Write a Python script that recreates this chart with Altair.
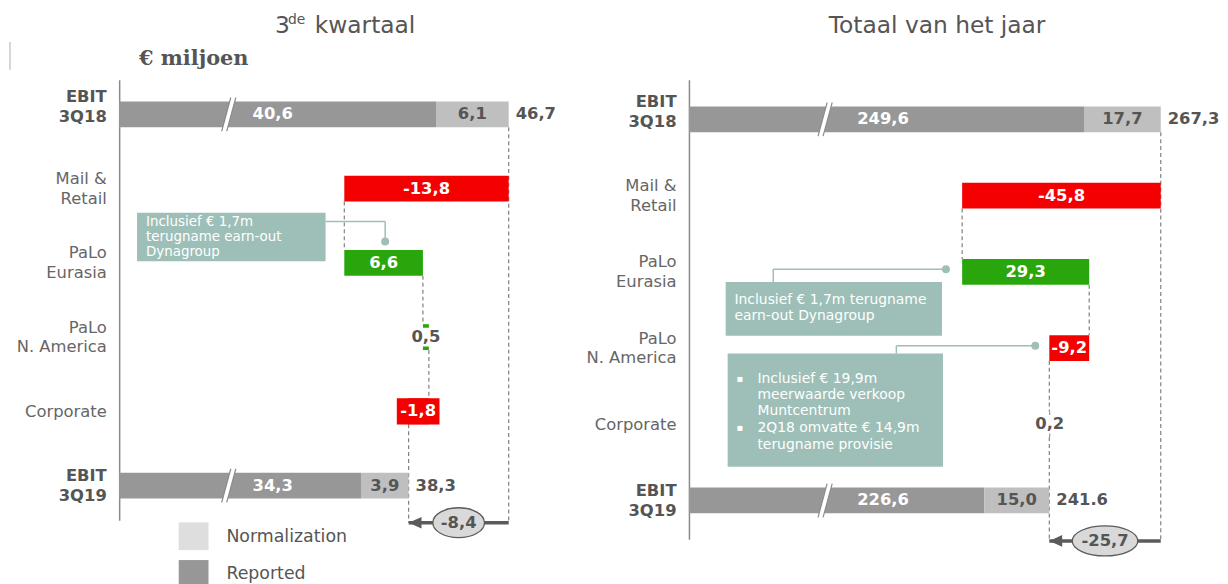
import json
import altair as alt
import pandas as pd

# ---------------- chart values ----------------
categories = ["EBIT\n3Q18", "Mail &\nRetail", "PaLo\nEurasia",
              "PaLo\nN. America", "Corporate", "EBIT\n3Q19"]
segment_kinds = ["Reported", "Normalization", "Increase", "Decrease"]
legend_names = ["Normalization", "Reported"]

q3_heading = ["3", "de", "kwartaal"]
q3_unit = "€ miljoen"
q3_reported = [40.6, 34.3]
q3_normalization = [6.1, 3.9]
q3_totals = [46.7, 38.3]
q3_total_labels = ["46,7", "38,3"]
q3_deltas = [-13.8, 6.6, 0.5, -1.8]
q3_notes = ["Inclusief € 1,7m\nterugname earn-out\nDynagroup"]

fy_heading = "Totaal van het jaar"
fy_reported = [249.6, 226.6]
fy_normalization = [17.7, 15.0]
fy_totals = [267.3, 241.6]
fy_total_labels = ["267,3", "241.6"]
fy_deltas = [-45.8, 29.3, -9.2, 0.2]
fy_notes = ["Inclusief € 1,7m terugname\nearn-out Dynagroup",
            "Inclusief € 19,9m\nmeerwaarde verkoop\nMuntcentrum",
            "2Q18 omvatte € 14,9m\nterugname provisie"]
bullet_mark = "▪"

# ---------------- styles ----------------
FONT = "DejaVu Sans"
SERIF = "DejaVu Serif"
SEG_COLORS = ["#979797", "#bfbfbf", "#29a60b", "#f40000"]
LEGEND_COLORS = ["#dedede", "#979797"]
DARK = "#555555"
LABEL_GREY = "#666666"
NOTE = "#9dbfb8"
DASH = "#808080"
ARROW = "#5b5b5b"
VALUE_SIZE = 16.5
CAT_SIZE = 16.5

Q3_LAYOUT = {
    "xdomain": [14, 52], "width": 456, "height": 444,
    "ydomain": [-0.468, 5.468], "half": 0.174,
    "break_x": 23.2, "rep_label_x": 25.2, "arrow_row": 5.5,
    "ellipse": (52, 0.58),
    "headings": [
        {"text": q3_heading[0], "x": 157, "y": -54, "size": 23.5},
        {"text": q3_heading[1], "x": 170, "y": -60, "size": 14},
        {"text": q3_heading[2], "x": 197, "y": -54, "size": 23.5},
        {"text": q3_unit, "x": 20, "y": -21, "size": 21, "weight": "bold", "font": SERIF},
    ],
    "boxes": [(15.5, 31.33, 1.324, 1.979)],
    "texts": [(q3_notes[0], 16.25, 1.35, False)],
    "bullet_x": None,
    "leaders": [[(31.33, 1.444), (36.33, 1.444), (36.33, 1.711)]],
    "line_h": 15.5, "note_size": 13.5,
    "legend": True,
}

FY_LAYOUT = {
    "xdomain": [158.5, 278.9], "width": 526, "height": 463,
    "ydomain": [-0.521, 5.508], "half": 0.169,
    "break_x": 189.9, "rep_label_x": 197.3, "arrow_row": 5.53,
    "ellipse": (66, 0.46),
    "headings": [{"text": fy_heading, "x": 250, "y": -54, "size": 23.5, "align": "center"}],
    "boxes": [(166.97, 216.85, 2.135, 2.839), (167.42, 217.08, 3.073, 4.557)],
    "texts": [(fy_notes[0], 169.0, 2.28, False),
              (fy_notes[1], 174.29, 3.31, True),
              (fy_notes[2], 174.29, 3.96, True)],
    "bullet_x": 169.48,
    "leaders": [[(177.95, 2.135), (177.95, 1.966), (217.77, 1.966)],
                [(206.33, 3.073), (206.33, 2.969), (238.36, 2.969)]],
    "line_h": 16.5, "note_size": 14,
    "legend": False,
}


def fmt(v):
    return f"{v:.1f}".replace(".", ",")


def one(text):
    return pd.DataFrame({"t": [text]})


def panel(reported, normalization, totals, total_labels, deltas, lay):
    dom = lay["xdomain"]
    W, H = lay["width"], lay["height"]
    pxu = W / (dom[1] - dom[0])
    h = lay["half"]
    last = len(categories) - 1

    xs = alt.Scale(domain=dom, clamp=True, nice=False, zero=False)
    ys = alt.Scale(domain=lay["ydomain"], reverse=True, nice=False, zero=False)
    cats_js = json.dumps(categories)
    test_bold = f"datum.value == 0 || datum.value == {last}"
    test_two = f"indexof({cats_js}[datum.value], '\\n') >= 0"
    yaxis = alt.Axis(
        title=None, values=list(range(len(categories))),
        labelExpr=f"split({cats_js}[datum.value], '\\n')",
        ticks=False, grid=False, domain=True, domainColor="#8a8a8a", domainWidth=1.5,
        labelPadding=13, labelFont=FONT, labelFontSize=CAT_SIZE, labelLineHeight=20,
        labelOverlap=False, labelAlign="right", labelBaseline="middle",
        labelOffset={"condition": [{"test": "datum.value == 0", "value": -18},
                                   {"test": test_two, "value": -10}], "value": 0},
        labelColor={"condition": {"test": test_bold, "value": DARK}, "value": LABEL_GREY},
        labelFontWeight={"condition": {"test": test_bold, "value": "bold"}, "value": "normal"},
    )

    def X(f):
        return alt.X(f + ":Q", scale=xs, axis=None, title=None)

    def Y(f):
        return alt.Y(f + ":Q", scale=ys, axis=yaxis, title=None)

    # --- segments ---
    segs = []
    for i, r in ((0, 0), (1, last)):
        segs.append(dict(row=r, x0=0, x1=reported[i], kind="Reported"))
        segs.append(dict(row=r, x0=reported[i], x1=totals[i], kind="Normalization"))
    level = totals[0]
    starts, ends = [], []
    for k, d in enumerate(deltas):
        starts.append(level)
        level = level + d
        ends.append(level)
        segs.append(dict(row=k + 1, x0=starts[-1], x1=level,
                         kind="Increase" if d > 0 else "Decrease"))
    seg_df = pd.DataFrame(segs)

    color_scale = alt.Scale(domain=segment_kinds, range=SEG_COLORS)

    # --- dashed connectors ---
    dash = [dict(x=totals[0], r0=h, r1=lay["arrow_row"])]
    for k in range(len(deltas) - 1):
        dash.append(dict(x=ends[k], r0=k + 1 + h, r1=k + 2 - h))
    dash.append(dict(x=totals[1], r0=len(deltas) + h, r1=lay["arrow_row"]))
    dash_df = pd.DataFrame(dash)

    layers = []
    layers.append(alt.Chart(dash_df).mark_rule(strokeDash=[4, 3], color=DASH, strokeWidth=1.2)
                  .encode(x=X("x"), y=Y("r0"), y2="r1"))

    layers.append(alt.Chart(seg_df)
                  .transform_calculate(ylo=f"datum.row - {h}", yhi=f"datum.row + {h}")
                  .mark_rect()
                  .encode(x=X("x0"), x2="x1", y=Y("ylo"), y2="yhi",
                          color=alt.Color("kind:N", scale=color_scale, legend=None)))

    # --- label backgrounds for narrow bars ---
    bg, wbg, lab_c = [], [], []
    for i, r in ((0, 0), (1, last)):
        lab_c.append(dict(x=(reported[i] + totals[i]) / 2, row=r,
                          text=fmt(normalization[i]), color=DARK))
    for k, d in enumerate(deltas):
        wpx = abs(d) * pxu
        mid = (starts[k] + ends[k]) / 2
        lab_c.append(dict(x=mid, row=k + 1, text=fmt(d), color="white" if wpx >= 15 else DARK))
        if 15 <= wpx < 40:
            bg.append(dict(x=mid, row=k + 1, kind="Increase" if d > 0 else "Decrease"))
        elif wpx < 15:
            wbg.append(dict(x=mid, row=k + 1))
    if bg:
        layers.append(alt.Chart(pd.DataFrame(bg))
                      .mark_point(shape="M -1 -0.62 L 1 -0.62 L 1 0.62 L -1 0.62 Z",
                                  size=43 * 43, filled=True, opacity=1, strokeWidth=0)
                      .encode(x=X("x"), y=Y("row"),
                              color=alt.Color("kind:N", scale=color_scale, legend=None)))
    if wbg:
        layers.append(alt.Chart(pd.DataFrame(wbg))
                      .mark_point(shape="M -1 -0.55 L 1 -0.55 L 1 0.55 L -1 0.55 Z",
                                  size=34 * 34, filled=True, fill="white", opacity=1, strokeWidth=0)
                      .encode(x=X("x"), y=Y("row")))

    # --- axis break marks ---
    brk = pd.DataFrame({"x": [lay["break_x"]] * 2, "row": [0, last]})
    layers.append(alt.Chart(brk).mark_point(
        shape="M 0.12 -1 L 0.42 -1 L -0.12 1 L -0.42 1 Z", size=1156,
        filled=True, fill="white", opacity=1, strokeWidth=0)
        .encode(x=X("x"), y=Y("row")))
    layers.append(alt.Chart(brk).mark_point(
        shape="M 0.12 -1 L -0.42 1 M 0.42 -1 L -0.12 1", size=1156,
        filled=False, stroke="#8c8c8c", strokeWidth=1.2, opacity=1)
        .encode(x=X("x"), y=Y("row")))

    # --- value labels ---
    txt = dict(font=FONT, fontSize=VALUE_SIZE, fontWeight="bold", baseline="middle")
    layers.append(alt.Chart(pd.DataFrame(lab_c)).mark_text(align="center", **txt)
                  .encode(x=X("x"), y=Y("row"), text="text:N", color=alt.Color("color:N", scale=None)))
    rep_df = pd.DataFrame([dict(x=lay["rep_label_x"], row=r, text=fmt(reported[i]))
                           for i, r in ((0, 0), (1, last))])
    layers.append(alt.Chart(rep_df).mark_text(align="left", color="white", **txt)
                  .encode(x=X("x"), y=Y("row"), text="text:N"))
    tot_df = pd.DataFrame([dict(x=totals[i], row=r, text=total_labels[i])
                           for i, r in ((0, 0), (1, last))])
    layers.append(alt.Chart(tot_df).mark_text(align="left", dx=7, color=DARK, **txt)
                  .encode(x=X("x"), y=Y("row"), text="text:N"))

    # --- change arrow ---
    ar = lay["arrow_row"]
    arrow_df = pd.DataFrame([dict(x=totals[0], x2=totals[1], row=ar,
                                  mid=(totals[0] + totals[1]) / 2,
                                  text=fmt(totals[1] - totals[0]))])
    layers.append(alt.Chart(arrow_df).mark_rule(strokeWidth=3.5, color=ARROW)
                  .encode(x=X("x"), x2="x2", y=Y("row")))
    layers.append(alt.Chart(arrow_df).mark_point(shape="M 0 0 L 2 -0.9 L 2 0.9 Z", size=169,
                                                 filled=True, color=ARROW, opacity=1)
                  .encode(x=X("x2"), y=Y("row")))
    ew, er = lay["ellipse"]
    layers.append(alt.Chart(arrow_df).mark_point(
        shape=f"M -1 0 A 1 {er} 0 1 1 1 0 A 1 {er} 0 1 1 -1 0 Z", size=ew * ew,
        filled=True, fill="#d9d9d9", stroke=ARROW, strokeWidth=1.3, opacity=1)
        .encode(x=X("mid"), y=Y("row")))
    layers.append(alt.Chart(arrow_df).mark_text(align="center", color=DARK, **txt)
                  .encode(x=X("mid"), y=Y("row"), text="text:N"))

    # --- notes ---
    box_df = pd.DataFrame([dict(x0=b[0], x1=b[1], r0=b[2], r1=b[3]) for b in lay["boxes"]])
    layers.append(alt.Chart(box_df).mark_rect(color=NOTE)
                  .encode(x=X("x0"), x2="x1", y=Y("r0"), y2="r1"))
    segs_l, dots = [], []
    for path in lay["leaders"]:
        for (ax, ay), (bx, by) in zip(path[:-1], path[1:]):
            segs_l.append(dict(x=ax, x2=bx, r0=ay, r1=by))
        dots.append(dict(x=path[-1][0], row=path[-1][1]))
    layers.append(alt.Chart(pd.DataFrame(segs_l)).mark_rule(color=NOTE, strokeWidth=1.5)
                  .encode(x=X("x"), x2="x2", y=Y("r0"), y2="r1"))
    layers.append(alt.Chart(pd.DataFrame(dots)).mark_circle(color=NOTE, size=64, opacity=1)
                  .encode(x=X("x"), y=Y("row")))
    note_df = pd.DataFrame([dict(x=t[1], row=t[2], text=t[0]) for t in lay["texts"]])
    ntxt = dict(font=FONT, fontSize=lay["note_size"], lineHeight=lay["line_h"],
                baseline="top", align="left", color="white", lineBreak="\n")
    layers.append(alt.Chart(note_df).mark_text(**ntxt)
                  .encode(x=X("x"), y=Y("row"), text="text:N"))
    if lay["bullet_x"] is not None:
        bl_df = pd.DataFrame([dict(x=lay["bullet_x"], row=t[2], text=bullet_mark)
                              for t in lay["texts"] if t[3]])
        layers.append(alt.Chart(bl_df).mark_text(**dict(ntxt, fontSize=10, dy=2))
                      .encode(x=X("x"), y=Y("row"), text="text:N"))

    # --- headings ---
    for hd in lay["headings"]:
        layers.append(alt.Chart(one(hd["text"])).mark_text(
            font=hd.get("font", FONT), fontSize=hd["size"], fontWeight=hd.get("weight", "normal"),
            align=hd.get("align", "left"), baseline="middle", color=DARK)
            .encode(x=alt.value(hd["x"]), y=alt.value(hd["y"]), text="t:N"))

    # --- legend and frame mark ---
    if lay["legend"]:
        for i, name in enumerate(legend_names):
            d1 = one(name)
            layers.append(alt.Chart(d1).mark_rect(color=LEGEND_COLORS[i]).encode(
                x=alt.value(60), x2=alt.value(90),
                y=alt.value(446 + 38 * i), y2=alt.value(474 + 38 * i)))
            layers.append(alt.Chart(d1).mark_text(font=FONT, fontSize=17.5, align="left",
                                                  baseline="middle", color=DARK)
                          .encode(x=alt.value(108), y=alt.value(461 + 37 * i), text="t:N"))
        layers.append(alt.Chart(one("frame")).mark_rule(color="#c8c8c8", strokeWidth=1.5)
                      .encode(x=alt.value(-110), y=alt.value(-38), y2=alt.value(-10)))

    return alt.layer(*layers).properties(width=W, height=H)


left = panel(q3_reported, q3_normalization, q3_totals, q3_total_labels, q3_deltas, Q3_LAYOUT)
right = panel(fy_reported, fy_normalization, fy_totals, fy_total_labels, fy_deltas, FY_LAYOUT)

chart = (alt.hconcat(left, right, spacing=14)
         .resolve_scale(x="independent", y="independent")
         .properties(padding={"left": 1, "top": 3, "right": 0, "bottom": 0})
         .configure(font=FONT)
         .configure_view(strokeWidth=0))

chart.save("out.html", embed_options={"renderer": "svg", "actions": False})
